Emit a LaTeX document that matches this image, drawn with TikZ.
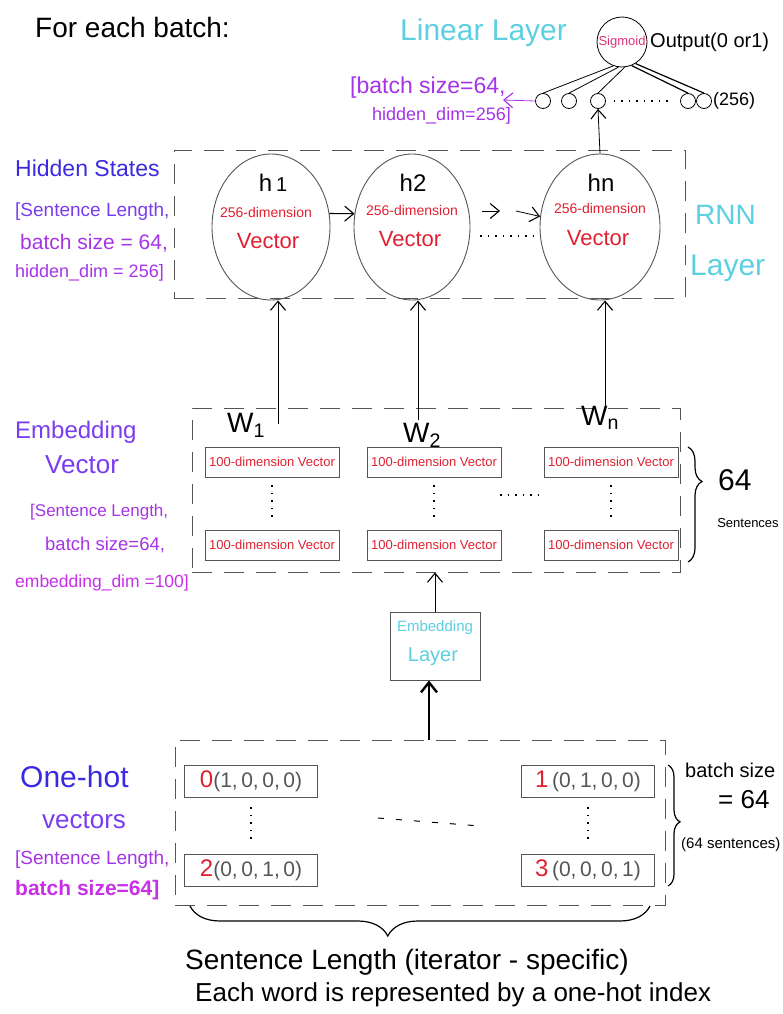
\documentclass[tikz,border=0pt]{standalone}
\usepackage{fontspec}
\setmainfont{Liberation Sans}
\usetikzlibrary{arrows.meta,decorations.pathreplacing,shapes.geometric,calc}
\newcommand\hfs[1]{\fontsize{#1}{#1}\selectfont}
\definecolor{cyanL}{HTML}{5CCFE0}
\definecolor{redL}{HTML}{E02030}
\definecolor{magL}{HTML}{E0307A}
\definecolor{pBlue}{HTML}{3A2AE0}
\definecolor{pViolet}{HTML}{7A3CF0}
\definecolor{pPurple}{HTML}{A534E6}
\definecolor{pMag}{HTML}{C830E8}
\definecolor{boxgray}{HTML}{555555}
\begin{document}
\begin{tikzpicture}[x=1pt,y=-1pt,
  lbl/.style={inner sep=0pt, anchor=west},
  ctr/.style={inner sep=0pt},
  dbox/.style={draw=boxgray, dash pattern=on 20pt off 12pt, line width=0.9pt, inner sep=0pt},
  vbox/.style={draw=boxgray, line width=0.9pt, minimum width=134pt, minimum height=30pt, inner sep=0pt, text=redL, font=\hfs{13}},
  hbox/.style={draw=boxgray, line width=0.9pt, minimum width=133pt, minimum height=32pt, inner sep=0pt, text=boxgray},
  hcirc/.style={draw=boxgray, ellipse, line width=0.9pt, minimum width=118pt, minimum height=146pt, inner sep=0pt},
  unit/.style={draw=black, circle, minimum size=15pt, inner sep=0pt, line width=0.8pt},
  arr/.style={-{Straight Barb[length=9pt,width=15pt,line width=1.1pt]}, line width=0.8pt},
  wire/.style={line width=0.8pt},
  dots/.style={line width=1.2pt, dash pattern=on 1.5pt off 6pt},
  brc/.style={decorate, line width=1.2pt}
]
\useasboundingbox (0,0) rectangle (783,1014);

% ---------- top ----------
\node[lbl] (title) at (35,27) {\hfs{28}For each batch:};
\node[lbl,text=cyanL] (linear) at (400,33) {\hfs{30}Linear Layer};
\node[draw=black, circle, minimum size=50pt, inner sep=0pt, line width=0.8pt, text=magL] (sig) at (622,42) {\hfs{13}Sigmoid};
\node[lbl] (out) at (650,42) {\hfs{20}Output(0 or1)};

\node[unit] (o1) at (543,101) {};
\node[unit] (o2) at (569,101) {};
\node[unit] (o3) at (598,101) {};
\node[unit] (o4) at (688,101) {};
\node[unit] (o5) at (704,101) {};
\node[lbl] (n256) at (713,101) {\hfs{18}(256)};
\draw[dots] ($(o3.east)+(8,0)$) -- ($(o4.west)+(-8,0)$);
\draw[wire] (sig.250) -- (o1.north);
\draw[wire] (sig.262) -- (o2.north);
\draw[wire] (sig.276) -- (o3.north);
\draw[wire, line width=1.2pt] (sig.292) -- (o4.north);
\draw[wire, line width=1.2pt] (sig.302) -- (o5.north);

\node[lbl,text=pPurple] (bs1) at (350,88) {\hfs{23}[batch size=64,};
\node[lbl,text=pPurple] (bs2) at (372,116) {\hfs{18}hidden\_dim=256]};
\coordinate (bsarr) at (503,100);
\draw[arr, draw=pPurple] (o1.west) -- (bsarr);

% ---------- RNN layer ----------
\node[dbox, minimum width=511pt, minimum height=148pt] (rnnbox) at (429.5,224) {};
\node[hcirc] (h1) at (271,227) {};
\node[hcirc, minimum width=116pt] (h2) at (412,227) {};
\node[hcirc, minimum width=120pt] (hn) at (600,227) {};
\node[ctr] (h1l) at (273,183) {\hfs{24}h\,{\hfs{20}1}};
\node[ctr,text=redL] (h1d) at (266,212) {\hfs{14}256-dimension};
\node[ctr,text=redL] (h1v) at (268,241) {\hfs{22}Vector};
\node[ctr] (h2l) at (413,183) {\hfs{24}h2};
\node[ctr,text=redL] (h2d) at (412,210) {\hfs{14}256-dimension};
\node[ctr,text=redL] (h2v) at (410,239) {\hfs{22}Vector};
\node[ctr] (hnl) at (601,183) {\hfs{24}hn};
\node[ctr,text=redL] (hnd) at (600,208) {\hfs{14}256-dimension};
\node[ctr,text=redL] (hnv) at (598,238) {\hfs{22}Vector};

\draw[arr, line width=1.1pt] (h1.13) -- (h2.167);
\coordinate (d1) at (482,211);
\coordinate (d2) at (500,211);
\coordinate (d3) at (516,211);
\draw[arr] (d1) -- (d2);
\draw[arr] (d3) -- (hn.170);
\draw[dots] (480,236) -- (535,236);
\draw[arr] (hn.north) -- (o3.south);

\node[lbl,text=pBlue] (hs) at (15,168) {\hfs{23}Hidden States};
\node[lbl,text=pViolet] (hs1) at (15,212) {\hfs{19}[Sentence Length,};
\node[lbl,text=pPurple] (hs2) at (20,243) {\hfs{21}batch size = 64,};
\node[lbl,text=pPurple] (hs3) at (15,273) {\hfs{18}hidden\_dim = 256]};

\node[lbl,text=cyanL] (rnn1) at (695,215) {\hfs{28}RNN};
\node[lbl,text=cyanL] (rnn2) at (690,268) {\hfs{30}Layer};

% ---------- Embedding vectors ----------
\node[dbox, minimum width=488pt, minimum height=164pt] (embbox) at (436,490) {};
\node[ctr] (w1) at (246,425) {\hfs{28}W\textsubscript{1}};
\node[ctr] (w2) at (422,435) {\hfs{28}W\textsubscript{2}};
\node[ctr] (wn) at (600,418) {\hfs{28}W\textsubscript{n}};
\coordinate (c1) at (278,424);
\coordinate (c2) at (418,420);
\coordinate (c3) at (605,406);
\draw[arr] (c1) -- (c1 |- h1.south);
\draw[arr] (c2) -- (c2 |- h2.south);
\draw[arr] (c3) -- (c3 |- hn.south);

\node[vbox] (v11) at (272,462) {100-dimension Vector};
\node[vbox] (v12) at (434,462) {100-dimension Vector};
\node[vbox] (v13) at (611,462) {100-dimension Vector};
\node[vbox] (v21) at (272,545) {100-dimension Vector};
\node[vbox] (v22) at (434,545) {100-dimension Vector};
\node[vbox] (v23) at (611,545) {100-dimension Vector};
\draw[dots, shorten <=8pt, shorten >=8pt] (v11.south) -- (v21.north);
\draw[dots, shorten <=8pt, shorten >=8pt] (v12.south) -- (v22.north);
\draw[dots, shorten <=8pt, shorten >=8pt] (v13.south) -- (v23.north);
\draw[dots] (500,495) -- (540,495);

\draw[brc, decoration={brace, amplitude=14pt, aspect=0.3}] (688,447) -- (688,562);
\node[lbl] (s64) at (718,480) {\hfs{30}64};
\node[ctr] (sent) at (748,523) {\hfs{13}Sentences};

\node[lbl,text=pViolet] (ev1) at (15,432) {\hfs{24}Embedding};
\node[lbl,text=pViolet] (ev2) at (45,465) {\hfs{26}Vector};
\node[lbl,text=pPurple] (ev3) at (30,512) {\hfs{17}[Sentence Length,};
\node[lbl,text=pPurple] (ev4) at (45,545) {\hfs{18.5}batch size=64,};
\node[lbl,text=pMag] (ev5) at (15,583) {\hfs{17.5}embedding\_dim =100]};

% ---------- Embedding layer ----------
\node[draw=boxgray, line width=0.9pt, minimum width=90pt, minimum height=68pt, inner sep=0pt] (emb) at (435,646) {};
\node[ctr,text=cyanL] (embt1) at (435,628) {\hfs{15}Embedding};
\node[ctr,text=cyanL] (embt2) at (433,657) {\hfs{20}Layer};
\draw[arr] (emb.north) -- (emb.north |- embbox.south);

% ---------- One-hot ----------
\node[dbox, minimum width=490pt, minimum height=165pt] (ohbox) at (420,822.5) {};
\draw[-{Straight Barb[length=10pt,width=16pt,line width=2.4pt]}, line width=1.1pt] ([xshift=-6pt]emb.south |- ohbox.north) -- ([xshift=-6pt]emb.south);

\node[hbox] (b0) at (251,781) {{\color{redL}\hfs{24}0}\hfs{21}(1,\,0,\,0,\,0)};
\node[hbox] (b1) at (588,781) {{\color{redL}\hfs{24}1}\hfs{21}\,(0,\,1,\,0,\,0)};
\node[hbox] (b2) at (251,870) {{\color{redL}\hfs{24}2}\hfs{21}(0,\,0,\,1,\,0)};
\node[hbox] (b3) at (588,870) {{\color{redL}\hfs{24}3}\hfs{21}\,(0,\,0,\,0,\,1)};
\draw[dots, shorten <=10pt, shorten >=10pt] (b0.south) -- (b2.north);
\draw[dots, shorten <=10pt, shorten >=10pt] (b1.south) -- (b3.north);
\draw[line width=1pt, dash pattern=on 6pt off 12pt] (378,818) -- (480,826);

\draw[brc, decoration={brace, amplitude=12pt, aspect=0.47}] (668,765) -- (668,886);
\node[lbl] (bsz) at (685,770) {\hfs{20}batch size};
\node[lbl] (eq64) at (718,800) {\hfs{26}= 64};
\node[lbl] (s64b) at (681,845) {\hfs{15}(64 sentences)};

\node[lbl,text=pBlue] (oh1) at (20,777) {\hfs{30}One-hot};
\node[lbl,text=pViolet] (oh2) at (42,820) {\hfs{26}vectors};
\node[lbl,text=pPurple] (oh3) at (15,860) {\hfs{19}[Sentence Length,};
\node[lbl,text=pMag] (oh4) at (15,890) {\hfs{21}\bfseries batch size=64]};

\draw[brc, decoration={brace, mirror, amplitude=30pt, aspect=0.43}] (190,906) -- (650,906);
\node[lbl] (sl) at (185,962) {\hfs{28}Sentence Length (iterator - specific)};
\node[lbl] (ew) at (195,995) {\hfs{26}Each word is represented by a one-hot index};
\end{tikzpicture}
\end{document}
